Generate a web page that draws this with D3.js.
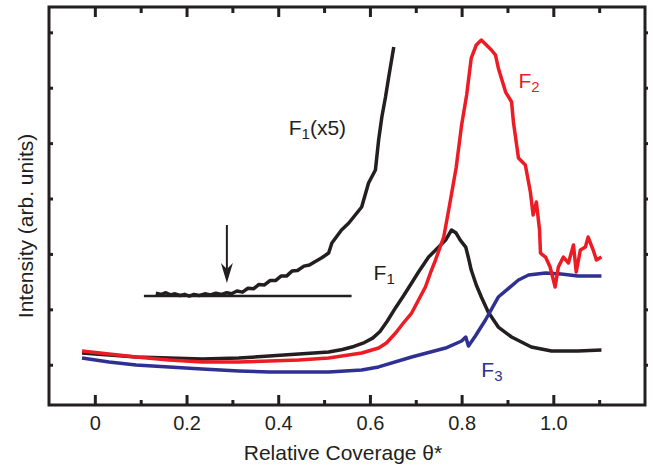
<!DOCTYPE html>
<html>
<head>
<meta charset="utf-8">
<script src="https://cdn.jsdelivr.net/npm/d3@7"></script>
<style>
  body { margin: 0; background: #fff; }
  text { font-family: "Liberation Sans", Arial, Helvetica, sans-serif; fill: #231f20; }
</style>
</head>
<body>
<div id="chart"></div>
<script>
// coverage values (theta*) and intensities (arb. units)
const f1X = [-0.028, 0.031, 0.090, 0.162, 0.234, 0.314, 0.380, 0.445, 0.510, 0.540, 0.565, 0.588, 0.606, 0.622, 0.638, 0.656, 0.673, 0.691, 0.706, 0.728, 0.750, 0.765, 0.778, 0.788, 0.797, 0.809, 0.815, 0.821, 0.832, 0.843, 0.858, 0.880, 0.909, 0.952, 0.996, 1.054, 1.105];
const f1Y = [0.211, 0.175, 0.139, 0.121, 0.103, 0.121, 0.157, 0.193, 0.229, 0.275, 0.330, 0.400, 0.480, 0.600, 0.790, 1.030, 1.240, 1.475, 1.673, 1.944, 2.124, 2.250, 2.432, 2.377, 2.250, 2.124, 1.926, 1.709, 1.439, 1.222, 0.951, 0.680, 0.500, 0.319, 0.247, 0.247, 0.265];

const f2X = [-0.028, 0.031, 0.090, 0.162, 0.234, 0.314, 0.380, 0.445, 0.510, 0.582, 0.619, 0.636, 0.656, 0.673, 0.691, 0.706, 0.721, 0.732, 0.743, 0.761, 0.771, 0.788, 0.800, 0.811, 0.821, 0.832, 0.843, 0.854, 0.865, 0.874, 0.880, 0.896, 0.909, 0.913, 0.924, 0.939, 0.950, 0.956, 0.963, 0.970, 0.972, 0.983, 0.993, 1.004, 1.011, 1.022, 1.033, 1.044, 1.050, 1.059, 1.070, 1.076, 1.087, 1.094, 1.105];
const f2Y = [0.247, 0.193, 0.139, 0.085, 0.048, 0.048, 0.067, 0.085, 0.121, 0.211, 0.301, 0.392, 0.572, 0.753, 0.933, 1.168, 1.403, 1.656, 1.890, 2.305, 2.756, 3.551, 4.327, 4.868, 5.536, 5.771, 5.861, 5.771, 5.681, 5.590, 5.356, 4.922, 4.742, 4.381, 3.731, 3.605, 3.117, 2.704, 2.936, 2.432, 2.016, 1.944, 1.764, 1.403, 1.764, 1.944, 1.836, 2.161, 1.673, 2.070, 2.124, 2.305, 2.070, 1.890, 1.944];

const f3X = [-0.028, 0.031, 0.090, 0.162, 0.234, 0.314, 0.380, 0.445, 0.510, 0.582, 0.619, 0.691, 0.765, 0.800, 0.809, 0.815, 0.830, 0.852, 0.880, 0.924, 0.946, 0.983, 1.017, 1.054, 1.105];
const f3Y = [0.121, 0.048, -0.005, -0.040, -0.078, -0.114, -0.132, -0.132, -0.132, -0.096, -0.040, 0.139, 0.301, 0.428, 0.500, 0.338, 0.518, 0.807, 1.222, 1.529, 1.619, 1.656, 1.637, 1.601, 1.601];

const f1x5X = [0.133, 0.145, 0.155, 0.165, 0.175, 0.186, 0.196, 0.206, 0.216, 0.228, 0.240, 0.252, 0.264, 0.276, 0.288, 0.298, 0.310, 0.322, 0.334, 0.346, 0.358, 0.370, 0.382, 0.394, 0.406, 0.418, 0.430, 0.442, 0.456, 0.468, 0.480, 0.495, 0.510, 0.517, 0.538, 0.554, 0.582, 0.597, 0.612, 0.619, 0.626, 0.634, 0.641, 0.652];
const f1x5Y = [1.29, 1.27, 1.30, 1.26, 1.28, 1.25, 1.27, 1.24, 1.27, 1.25, 1.28, 1.26, 1.29, 1.27, 1.30, 1.28, 1.33, 1.31, 1.38, 1.37, 1.45, 1.44, 1.52, 1.52, 1.60, 1.60, 1.69, 1.70, 1.78, 1.80, 1.86, 1.93, 2.016, 2.197, 2.432, 2.558, 2.847, 3.280, 3.514, 4.056, 4.471, 4.832, 5.193, 5.735];

const xMajor = [0, 0.2, 0.4, 0.6, 0.8, 1.0];
const xMinor = [0.1, 0.3, 0.5, 0.7, 0.9, 1.1];
const xLabels = ['0', '0.2', '0.4', '0.6', '0.8', '1.0'];
const yTicks = [0, 1, 2, 3, 4, 5, 6];

const WIDTH = 653;
const HEIGHT = 468;
const LEFT = 49, RIGHT = 645, TOP = 7, BOTTOM = 405;

const svg = d3.select('#chart')
    .append('svg')
    .attr('width', WIDTH)
    .attr('height', HEIGHT);

const xScale = d3.scaleLinear().domain([-0.1, 1.2]).range([LEFT, RIGHT]);
const yScale = d3.scaleLinear().domain([-0.727, 6.457]).range([BOTTOM, TOP]);

// axes (ticks point inward, no domain path)
function drawAxis(axis, tx, ty, labels) {
    const g = svg.append('g')
        .attr('transform', `translate(${tx}, ${ty})`)
        .call(axis);
    g.select('.domain').remove();
    g.selectAll('.tick line').attr('stroke', '#231f20').attr('stroke-width', 3);
    if (!labels) g.selectAll('.tick text').remove();
    else g.selectAll('.tick text').attr('font-size', 20).attr('fill', '#231f20')
        .style('font-family', '"Liberation Sans", Arial, sans-serif');
    return g;
}

drawAxis(d3.axisBottom(xScale).tickValues(xMajor).tickSize(-10).tickPadding(11)
    .tickFormat((d, i) => xLabels[i]), 0, BOTTOM, true);
drawAxis(d3.axisBottom(xScale).tickValues(xMinor).tickSize(-5), 0, BOTTOM, false);
drawAxis(d3.axisTop(xScale).tickValues(xMajor).tickSize(-10), 0, TOP, false);
drawAxis(d3.axisTop(xScale).tickValues(xMinor).tickSize(-6), 0, TOP, false);
drawAxis(d3.axisLeft(yScale).tickValues(yTicks).tickSize(-4), LEFT, 0, false);
drawAxis(d3.axisRight(yScale).tickValues(yTicks).tickSize(3), RIGHT, 0, false);

// frame
svg.append('rect')
    .attr('x', LEFT).attr('y', TOP)
    .attr('width', RIGHT - LEFT).attr('height', BOTTOM - TOP)
    .attr('fill', 'none')
    .attr('stroke', '#231f20')
    .attr('stroke-width', 3);

// axis titles
svg.append('text')
    .attr('x', (LEFT + RIGHT) / 2 - 4)
    .attr('y', 460)
    .attr('text-anchor', 'middle')
    .attr('font-size', 21)
    .text('Relative Coverage θ*');

svg.append('text')
    .attr('transform', 'translate(33, 226) rotate(-90)')
    .attr('text-anchor', 'middle')
    .attr('font-size', 21)
    .text('Intensity (arb. units)');

// Create Lines
const line = d3.line()
    .x(d => xScale(d[0]))
    .y(d => yScale(d[1]));

const series = [
    { x: f1X, y: f1Y, color: '#231f20' },
    { x: f1x5X, y: f1x5Y, color: '#231f20' },
    { x: f3X, y: f3Y, color: '#2e3192' },
    { x: f2X, y: f2Y, color: '#ed1c24' }
];

series.forEach(s => {
    svg.append('path')
        .datum(d3.zip(s.x, s.y))
        .attr('fill', 'none')
        .attr('stroke', s.color)
        .attr('stroke-width', 3.5)
        .attr('stroke-linejoin', 'round')
        .attr('d', line);
});

// baseline for F1(x5) and the arrow
svg.append('line')
    .attr('x1', xScale(0.107)).attr('x2', xScale(0.560))
    .attr('y1', yScale(1.240)).attr('y2', yScale(1.240))
    .attr('stroke', '#231f20')
    .attr('stroke-width', 2.5);

const ax = xScale(0.288), aTop = yScale(2.522), aTip = yScale(1.475);
svg.append('line')
    .attr('x1', ax).attr('x2', ax)
    .attr('y1', aTop).attr('y2', aTip - 8)
    .attr('stroke', '#231f20')
    .attr('stroke-width', 2);
svg.append('path')
    .attr('d', `M${ax},${aTip} L${ax - 6},${aTip - 20} L${ax},${aTip - 14} L${ax + 6},${aTip - 20} Z`)
    .attr('fill', '#231f20');

// Create Labels
function label(x, y, main, sub, after, color) {
    const t = svg.append('text')
        .attr('x', xScale(x))
        .attr('y', yScale(y))
        .attr('font-size', 21)
        .style('fill', color);
    t.append('tspan').text(main);
    t.append('tspan').attr('font-size', 15).attr('dy', 4).text(sub);
    if (after) t.append('tspan').attr('dy', -4).text(after);
}

label(0.423, 4.146, 'F', '1', '(x5)', '#231f20');
label(0.608, 1.529, 'F', '1', null, '#231f20');
label(0.924, 4.995, 'F', '2', null, '#ed1c24');
label(0.843, -0.222, 'F', '3', null, '#2e3192');
</script>
</body>
</html>
